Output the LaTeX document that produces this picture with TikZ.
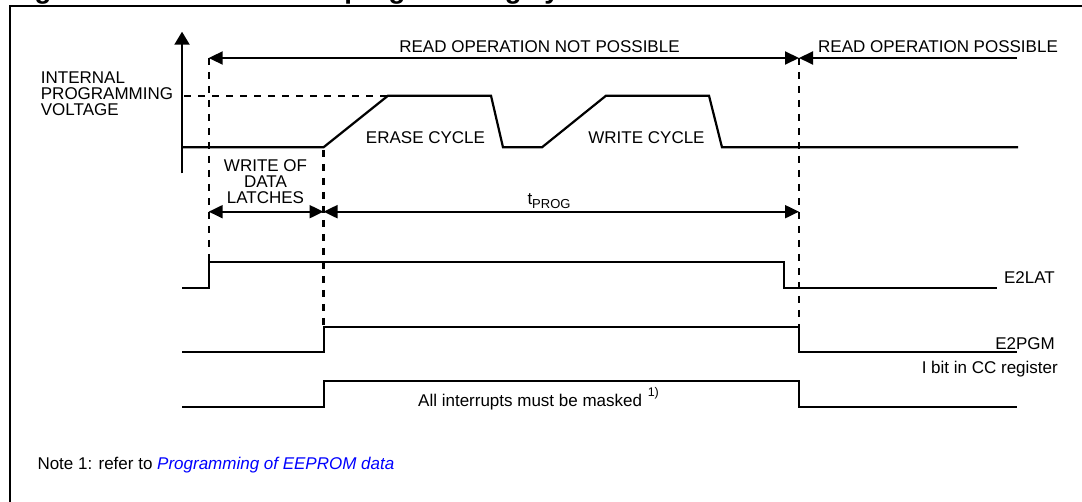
\documentclass[tikz,border=0pt]{standalone}
\usepackage{fontspec}
\setmainfont{Liberation Sans}
\usetikzlibrary{arrows.meta}
\definecolor{linkblue}{RGB}{0,0,255}
\begin{document}
\begin{tikzpicture}[x=1pt,y=-1pt,
  sig/.style={line width=2.2pt, line join=miter},
  frame/.style={line width=2pt},
  guide/.style={line width=2.1pt, dash pattern=on 7pt off 7pt},
  dimboth/.style={line width=2pt, {Triangle[length=14pt,width=13pt]}-{Triangle[length=14pt,width=13pt]}},
  dimleft/.style={line width=2pt, -{Triangle[length=14pt,width=13pt]}},
  axis/.style={line width=2pt, -{Triangle[length=13pt,width=15pt]}},
  lbl/.style={inner sep=0pt, font=\fontsize{17}{19}\selectfont},
]
\useasboundingbox (0,0) rectangle (1082,502);

% figure caption (cut by the top of the page) and frame
\node[inner sep=0pt, anchor=base west, font=\bfseries\fontsize{27.5}{30}\selectfont]
  (caption) at (10,-1.2) {Figure 81. Data EEPROM programming cycle};
\draw[frame] (10,520) -- (10,5.7) -- (1100,5.7);

% voltage axis
\coordinate (axlo) at (182,173.3);
\coordinate (axhi) at (182,31.7);
\draw[axis] (axlo) -- (axhi);

% internal programming voltage waveform
\draw[sig] (182,147.3) -- (323.5,147.3) -- (388,95.7) -- (491,95.7) -- (503,147.3)
  -- (542,147.3) -- (606,95.7) -- (709,95.7) -- (722,147.3) -- (1018,147.3);
\draw[guide] (184,95.7) -- (388,95.7);

% vertical markers
\coordinate (mA) at (208.7,58);
\coordinate (mB) at (323.5,58);
\coordinate (mC) at (799,58);
\coordinate (mAlo) at (208.7,261.7);
\coordinate (mBtop) at (323.5,150);
\coordinate (mBlo) at (323.5,326.7);
\coordinate (mClo) at (799,326.7);
\draw[guide] (mA) -- (mAlo);
\draw[guide] (mBtop) -- (mBlo);
\draw[guide] (mC) -- (mClo);

% read windows
\coordinate (rEnd) at (1017,58);
\draw[dimboth] (mA) -- (mC);
\draw[dimleft] (rEnd) -- (mC);
\node[lbl, anchor=base] (rno) at (539.5,53) {READ OPERATION NOT POSSIBLE};
\node[lbl, anchor=base west] (ryes) at (818,53) {READ OPERATION POSSIBLE};

% timing spans
\coordinate (sA) at (208.7,211.7);
\coordinate (sB) at (323.5,211.7);
\coordinate (sC) at (799,211.7);
\draw[dimboth] (sA) -- (sB);
\draw[dimboth] (sB) -- (sC);
\node[lbl, anchor=base] (tprog) at (549,205)
  {t\raisebox{-4pt}{\fontsize{13}{13}\selectfont PROG}};

% labels on the voltage trace
\node[lbl, anchor=base west] (v1) at (40.7,83.3) {INTERNAL};
\node[lbl, anchor=base west] (v2) at (40.7,99.6) {PROGRAMMING};
\node[lbl, anchor=base west] (v3) at (40.7,115.8) {VOLTAGE};
\node[lbl, anchor=base] (w1) at (265.5,171.7) {WRITE OF};
\node[lbl, anchor=base] (w2) at (265.5,187.4) {DATA};
\node[lbl, anchor=base] (w3) at (265.5,203.3) {LATCHES};
\node[lbl, anchor=base] (erase) at (425.5,144) {ERASE CYCLE};
\node[lbl, anchor=base] (write) at (646.5,144) {WRITE CYCLE};

% control signals
\draw[sig] (182,287.7) -- (208.7,287.7) -- (208.7,261.7) -- (784,261.7) -- (784,287.7) -- (997,287.7);
\draw[sig] (182,351.7) -- (323.7,351.7) -- (323.7,326.7) -- (799,326.7) -- (799,351.7) -- (1017,351.7);
\draw[sig] (182,406.7) -- (323.7,406.7) -- (323.7,380.7) -- (799,380.7) -- (799,406.7) -- (1017,406.7);
\node[lbl, anchor=base east] (e2lat) at (1055,283.3) {E2LAT};
\node[lbl, anchor=base east] (e2pgm) at (1055,350) {E2PGM};
\node[lbl, anchor=base east] (ibit) at (1058,374) {I bit in CC register};
\node[lbl, anchor=base west] (mask) at (418,406.5)
  {All interrupts must be masked\,\,\raisebox{9.5pt}{\fontsize{12.5}{13}\selectfont 1)}};

% footnote
\node[lbl, anchor=base west] (note) at (37.3,470)
  {Note 1: refer to \textcolor{linkblue}{\itshape Programming of EEPROM data}};
\end{tikzpicture}
\end{document}
